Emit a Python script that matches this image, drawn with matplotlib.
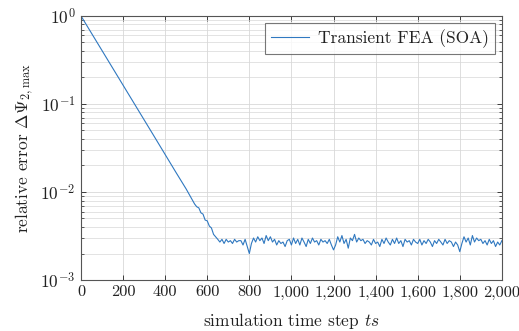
#!/usr/bin/env python3
# -*- coding: utf-8 -*-
"""Relative error of transient FEA (SOA) over simulation time steps."""

import numpy as np
import matplotlib
matplotlib.use("Agg")
import matplotlib.pyplot as plt
from matplotlib.ticker import FixedLocator, FuncFormatter, LogLocator, NullFormatter

# --- data ------------------------------------------------------------------
# decay phase (step, error)
decay_steps = [0, 50, 100, 150, 200, 250, 300, 350, 400, 450, 500, 540, 550,
               560, 570, 580, 590, 600, 610, 620, 630, 640]
decay_err = [1.0, 0.636, 0.404, 0.257, 0.163, 0.104, 0.066, 0.042, 0.0266,
             0.0169, 0.0108, 0.0073, 0.0068, 0.0066, 0.0058, 0.0056, 0.0048,
             0.0047, 0.0041, 0.0039, 0.0033, 0.0031]

# plateau phase, every 10 steps from 650 to 2000 (values in 1e-3)
plateau_start, plateau_stop, plateau_dt = 650, 2000, 10
plateau_err_e3 = [
    2.9, 2.7, 2.9, 2.6, 2.9, 2.7, 2.8, 2.6, 2.9, 2.7,
    2.8, 2.8, 2.5, 2.9, 2.4, 2.0, 2.6, 3.0, 2.7, 3.1,
    2.8, 3.0, 2.6, 3.2, 2.8, 3.1, 2.7, 2.9, 2.5, 2.8,
    2.6, 2.7, 2.4, 2.8, 2.9, 2.5, 3.0, 2.6, 2.9, 2.5,
    3.0, 2.7, 2.4, 2.9, 2.6, 3.0, 2.7, 2.8, 2.5, 2.9,
    2.7, 2.8, 2.6, 2.9, 2.5, 2.2, 2.5, 3.1, 2.7, 3.2,
    2.6, 2.9, 2.3, 3.0, 2.8, 3.3, 2.7, 3.0, 2.8, 2.9,
    2.6, 2.8, 2.7, 2.5, 2.9, 2.6, 2.7, 2.4, 2.9, 2.6,
    3.0, 2.7, 2.5, 2.9, 2.6, 3.0, 2.6, 2.8, 2.4, 2.9,
    2.7, 2.8, 2.5, 2.9, 2.7, 2.6, 2.9, 2.5, 2.8, 2.6,
    2.9, 2.7, 2.4, 2.8, 2.6, 2.9, 2.7, 2.5, 2.9, 2.6,
    2.8, 2.7, 2.4, 2.7, 2.5, 2.1, 2.6, 3.1, 2.7, 3.0,
    2.5, 3.2, 2.7, 3.0, 2.8, 2.9, 2.6, 2.8, 2.5, 2.9,
    2.6, 2.8, 2.4, 2.7, 2.5, 2.8,
]

x_ticks = [0, 200, 400, 600, 800, 1000, 1200, 1400, 1600, 1800, 2000]
y_ticks = [1e-3, 1e-2, 1e-1, 1e0]

series_label = "Transient FEA (SOA)"
x_label = "simulation time step $ts$"
y_label = r"relative error $\Delta\Psi_{2,\max}$"

# --- style ------------------------------------------------------------------
plt.rcParams["font.family"] = "serif"
plt.rcParams["font.serif"] = ["cmr10", "DejaVu Serif"]
plt.rcParams["mathtext.fontset"] = "cm"
plt.rcParams["axes.formatter.use_mathtext"] = True
plt.rcParams["axes.unicode_minus"] = False

line_color = "#2f78c0"
grid_color = "#d8d8d8"
text_color = "#222222"
fs = 12.5

steps = np.concatenate([decay_steps,
                        np.arange(plateau_start, plateau_stop + 1, plateau_dt)])
err = np.concatenate([decay_err, np.array(plateau_err_e3) * 1e-3])

fig = plt.figure(figsize=(5.19, 3.31), dpi=100)
ax = fig.add_axes([0.156, 0.154, 0.811, 0.798])

ax.plot(steps, err, color=line_color, linewidth=0.8, label=series_label)

ax.set_yscale("log")
ax.set_xlim(0, 2000)
ax.set_ylim(1e-3, 1e0)

ax.xaxis.set_major_locator(FixedLocator(x_ticks))
ax.xaxis.set_major_formatter(FuncFormatter(lambda v, p: f"{int(v):,}"))
ax.yaxis.set_major_locator(FixedLocator(y_ticks))
ax.yaxis.set_minor_locator(LogLocator(base=10, subs=np.arange(2, 10)))
ax.yaxis.set_minor_formatter(NullFormatter())

ax.tick_params(which="both", direction="in", top=True, right=True,
               labelsize=fs, colors=text_color, pad=4)
ax.tick_params(axis="x", labelsize=11.8)
ax.tick_params(which="major", length=3.5, width=0.6)
ax.tick_params(which="minor", length=2, width=0.5)

ax.grid(True, which="major", color=grid_color, linewidth=0.6)
ax.grid(True, which="minor", axis="y", color=grid_color, linewidth=0.5)
ax.set_axisbelow(True)

for sp in ax.spines.values():
    sp.set_color("#555555")
    sp.set_linewidth(0.8)

ax.set_xlabel(x_label, fontsize=fs, color=text_color, labelpad=8)
ax.set_ylabel(y_label, fontsize=fs, color=text_color, labelpad=3)

leg = ax.legend(loc="upper right", fontsize=fs, frameon=True, fancybox=False,
                borderpad=0.35, handlelength=2.2, handletextpad=0.5,
                borderaxespad=0.4)
leg.get_frame().set_edgecolor("#555555")
leg.get_frame().set_linewidth(0.8)
for t in leg.get_texts():
    t.set_color(text_color)

fig.savefig("out.png", dpi=100)
